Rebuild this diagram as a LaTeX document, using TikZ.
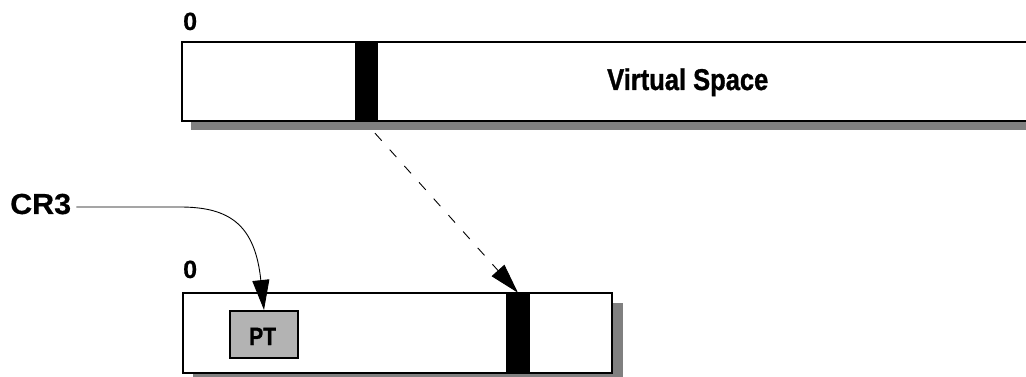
\documentclass[tikz,border=0pt]{standalone}
\usepackage{fontspec}
\setmainfont{Liberation Sans}
\newfontfamily\heavyfont{Liberation Sans}[BoldFeatures={FakeBold=1.2}]
\newfontfamily\semiheavyfont{Liberation Sans}[BoldFeatures={FakeBold=0.5}]
\usetikzlibrary{arrows.meta,calc}
\definecolor{shadowgray}{HTML}{808080}
\definecolor{ptgray}{HTML}{B3B3B3}
\tikzset{
  spacebox/.style={draw=black,fill=white,line width=2.5pt,rectangle,inner sep=0pt,minimum height=79pt},
  pagebar/.style={fill=black,draw=none,rectangle,inner sep=0pt,minimum width=23pt,minimum height=79pt},
  ptbox/.style={draw=black,fill=ptgray,line width=2pt,rectangle,inner sep=0pt,minimum width=68pt,minimum height=47pt},
  shadowfill/.style={fill=shadowgray,draw=none},
  label0/.style={inner sep=0pt,anchor=base west,font=\semiheavyfont\bfseries\fontsize{25}{25}\selectfont},
  heavylabel/.style={inner sep=0pt,anchor=base west,font=\heavyfont\bfseries\fontsize{25}{25}\selectfont},
  bigarrow/.style={-{Triangle[length=30pt,width=17pt]},line width=0.9pt},
}
\begin{document}
\begin{tikzpicture}[x=1pt,y=-1pt]
\useasboundingbox (0,0) rectangle (1026,377);
\clip (0,0) rectangle (1026,377);
% shadows
\fill[shadowfill] (191,51) rectangle (1040,130);
\fill[shadowfill] (193,303) rectangle (623,383);
% top virtual space box
\node[spacebox,minimum width=860pt] (vspace) at (612,81.5) {};
\node[pagebar] (bar1) at (366.5,81.5) {};
\node[heavylabel,font=\heavyfont\bfseries\fontsize{30}{30}\selectfont] (vslabel) at (607,90) {\scalebox{0.85}[1]{Virtual Space}};
\node[label0] (zero1) at (183,30) {0};
% bottom physical box
\node[spacebox,minimum width=429pt,minimum height=80pt] (phys) at (397.5,333) {};
\node[pagebar,minimum width=24pt,minimum height=80pt] (bar2) at (518,333) {};
\node[ptbox] (pt) at (264,334.5) {};
\node[heavylabel] (ptlabel) at (249,345) {\scalebox{0.84}[1]{PT}};
\node[label0] (zero2) at (183,278) {0};
% CR3
\node[inner sep=0pt,anchor=base west,font=\semiheavyfont\bfseries\fontsize{29}{29}\selectfont] (cr3) at (10,214) {\scalebox{1.05}[1]{CR3}};
\coordinate (bend) at (180,207);
% connectors
\draw[bigarrow] ([xshift=5pt]cr3.east |- bend) -- (bend) .. controls (230,207) and (255,225) .. (pt.north);
\draw[bigarrow,dash pattern=on 10pt off 12pt] ([xshift=8.5pt,yshift=-12pt]bar1.south) -- (bar2.north);
\end{tikzpicture}
\end{document}
